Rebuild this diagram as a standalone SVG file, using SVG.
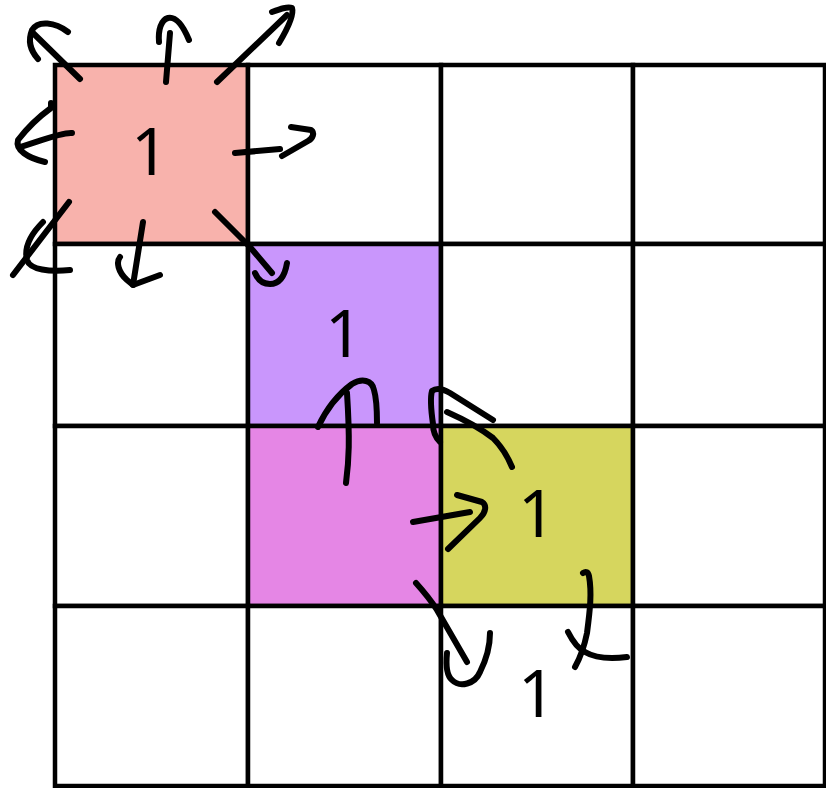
<svg xmlns="http://www.w3.org/2000/svg" width="826" height="788" viewBox="0 0 826 788">
<style>
.cell{stroke:#000;stroke-width:4.5}
.num{font-family:"Noto Sans","Open Sans",sans-serif;font-size:66px;fill:#000;text-anchor:middle}
.ar{stroke:#000;stroke-width:6;fill:none;stroke-linecap:round;stroke-linejoin:round}
</style>
<rect width="826" height="788" fill="#fff"/>
<g id="cells">
<g id="c00"><rect class="cell" x="55" y="65" width="193" height="179" fill="#F8B2AC"/><text class="num" x="150" y="175">1</text></g>
<g id="c01"><rect class="cell" x="248" y="65" width="193" height="179" fill="#fff"/></g>
<g id="c02"><rect class="cell" x="441" y="65" width="192" height="179" fill="#fff"/></g>
<g id="c03"><rect class="cell" x="633" y="65" width="192" height="179" fill="#fff"/></g>
<g id="c10"><rect class="cell" x="55" y="244" width="193" height="182" fill="#fff"/></g>
<g id="c11"><rect class="cell" x="248" y="244" width="193" height="182" fill="#C996FC"/><text class="num" x="344" y="357">1</text></g>
<g id="c12"><rect class="cell" x="441" y="244" width="192" height="182" fill="#fff"/></g>
<g id="c13"><rect class="cell" x="633" y="244" width="192" height="182" fill="#fff"/></g>
<g id="c20"><rect class="cell" x="55" y="426" width="193" height="180" fill="#fff"/></g>
<g id="c21"><rect class="cell" x="248" y="426" width="193" height="180" fill="#E586E5"/></g>
<g id="c22"><rect class="cell" x="441" y="426" width="192" height="180" fill="#D6D65E"/><text class="num" x="537" y="537">1</text></g>
<g id="c23"><rect class="cell" x="633" y="426" width="192" height="180" fill="#fff"/></g>
<g id="c30"><rect class="cell" x="55" y="606" width="193" height="180" fill="#fff"/></g>
<g id="c31"><rect class="cell" x="248" y="606" width="193" height="180" fill="#fff"/></g>
<g id="c32"><rect class="cell" x="441" y="606" width="192" height="180" fill="#fff"/><text class="num" x="537" y="717">1</text></g>
<g id="c33"><rect class="cell" x="633" y="606" width="192" height="180" fill="#fff"/></g>
</g>
<g id="connectors">
<path class="ar" d="M80,79 L33,33"/>
<path class="ar" d="M38,59 C30,50 28,40 32,30 C38,20 55,22 68,32"/>
<path class="ar" d="M166,82 L170,33"/>
<path class="ar" d="M159,42 C158,30 161,20 168,18 C177,16 184,28 189,40"/>
<path class="ar" d="M217,82 L287,15"/>
<path class="ar" d="M272,12 C280,9 288,6 292,8 C294,14 288,28 279,43"/>
<path class="ar" d="M72,133 C62,132 40,141 20,147"/>
<path class="ar" d="M51,103 L51,108 C40,116 28,127 18,140 C15,150 28,158 45,162"/>
<path class="ar" d="M235,153 L280,149"/>
<path class="ar" d="M291,127 L311,130 C315,133 313,138 308,141 L282,156"/>
<path class="ar" d="M69,202 L13,275"/>
<path class="ar" d="M43,222 C30,235 24,248 27,260 C30,270 50,272 70,270"/>
<path class="ar" d="M143,222 L133,285"/>
<path class="ar" d="M120,257 C116,262 118,272 127,280 L133,285 L160,275"/>
<path class="ar" d="M215,212 L250,247 L272,273"/>
<path class="ar" d="M255,273 C258,280 262,284 270,284 C280,284 285,275 287,263"/>
<path class="ar" d="M346,483 C349,460 350,440 347,393"/>
<path class="ar" d="M318,427 C325,412 337,395 352,384 C362,378 372,380 374,390 C377,400 377,412 377,423"/>
<path class="ar" d="M512,467 C507,455 500,445 493,438 C480,428 465,420 447,412"/>
<path class="ar" d="M440,442 C436,438 433,432 433,424 C431,410 430,398 432,391 C436,388 443,389 450,393 L493,420"/>
<path class="ar" d="M413,522 L470,512"/>
<path class="ar" d="M457,495 L482,502 C487,505 486,512 480,518 L448,549"/>
<path class="ar" d="M416,583 C425,593 432,602 437,610 L467,662"/>
<path class="ar" d="M447,653 C446,663 446,675 452,680 C460,688 475,684 480,672 C486,660 490,645 490,633"/>
<path class="ar" d="M583,573 C586,571 588,572 589,576 C592,593 590,610 587,633 C584,648 580,658 575,667"/>
<path class="ar" d="M568,632 C572,640 577,648 585,652 C595,658 610,659 627,657"/>
</g>
</svg>
